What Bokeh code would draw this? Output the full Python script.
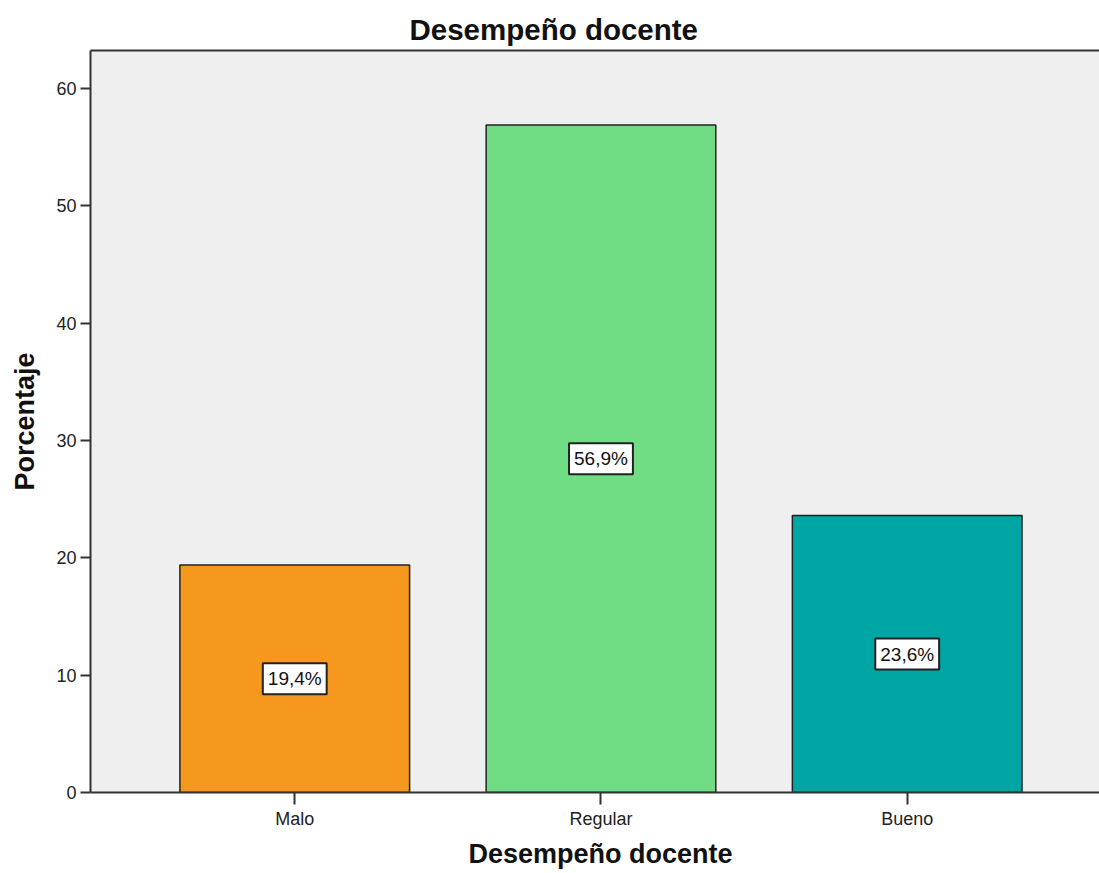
from bokeh.plotting import figure
from bokeh.models import (Range1d, FixedTicker, LinearAxis, Label, Title,
                          ColumnDataSource)
from bokeh.embed import file_html
from bokeh.resources import INLINE

# ---- data ----
categories = ["Malo", "Regular", "Bueno"]
percentages = [19.4, 56.9, 23.6]
bar_colors = ["#F7981E", "#70DC84", "#00A6A3"]
y_ticks = [0, 10, 20, 30, 40, 50, 60]
title_text = "Desempeño docente"
x_label = "Desempeño docente"
y_label = "Porcentaje"

FONT = "Liberation Sans"
positions = list(range(len(categories)))
labels_txt = [f"{v:.1f}".replace(".", ",") + "%" for v in percentages]

source = ColumnDataSource(dict(x=positions, top=percentages, color=bar_colors,
                               cat=categories))

p = figure(width=1099, height=873, output_backend="svg", toolbar_location=None,
           x_range=Range1d(-0.667, 2.628), y_range=Range1d(0, 63.24),
           min_border_left=90, min_border_right=0, min_border_top=50,
           min_border_bottom=81)
p.title = None
p.background_fill_color = "#EFEFEF"
p.border_fill_color = "white"
p.outline_line_color = None
p.xgrid.grid_line_color = None
p.ygrid.grid_line_color = None

p.vbar(x="x", top="top", width=0.75, bottom=0, source=source,
       fill_color="color", line_color="#222222", line_width=1.5)

for xi, v, t in zip(positions, percentages, labels_txt):
    p.add_layout(Label(x=xi, y=v / 2, text=t, text_align="center",
                       text_baseline="middle", text_font=FONT,
                       text_font_size="19px", text_color="#111111",
                       background_fill_color="white",
                       border_line_color="#222222", border_line_width=2,
                       padding=5))

# x axis
xa = p.xaxis[0]
xa.ticker = FixedTicker(ticks=positions)
xa.major_label_overrides = {i: c for i, c in zip(positions, categories)}
xa.major_label_text_font = FONT
xa.major_label_text_font_size = "18px"
xa.major_label_text_color = "#222222"
xa.major_tick_out = 12
xa.major_tick_in = 0
xa.minor_tick_line_color = None
xa.axis_line_color = "#333333"
xa.axis_line_width = 2
xa.major_tick_line_color = "#333333"
xa.major_tick_line_width = 2
xa.major_label_standoff = 4

# y axis
ya = p.yaxis[0]
ya.ticker = FixedTicker(ticks=y_ticks)
ya.major_label_text_font = FONT
ya.major_label_text_font_size = "18px"
ya.major_label_text_color = "#222222"
ya.major_tick_out = 10
ya.major_tick_in = 0
ya.minor_tick_line_color = None
ya.axis_line_color = "#333333"
ya.axis_line_width = 2
ya.major_tick_line_color = "#333333"
ya.major_tick_line_width = 2
ya.major_label_standoff = 4
ya.axis_label = y_label
ya.axis_label_text_font = FONT
ya.axis_label_text_font_style = "bold"
ya.axis_label_text_font_size = "27px"
ya.axis_label_text_color = "#111111"
ya.axis_label_standoff = 13

# top border line via an empty axis
top_ax = LinearAxis(ticker=FixedTicker(ticks=[]), axis_line_color="#333333",
                    axis_line_width=2, major_tick_line_color=None,
                    minor_tick_line_color=None,
                    major_label_text_font_size="0px")
p.add_layout(top_ax, "above")

# title
p.add_layout(Title(text=title_text, align="left", offset=319,
                   text_font=FONT, text_font_size="29.5px",
                   text_font_style="bold", text_color="#111111"), "above")

# x axis label as a title below
p.add_layout(Title(text=x_label, align="left", offset=378, standoff=10,
                   text_line_height=0.8,
                   text_font=FONT, text_font_size="27px",
                   text_font_style="bold", text_color="#111111"), "below")

open("out.html", "w").write(file_html(p, INLINE))
